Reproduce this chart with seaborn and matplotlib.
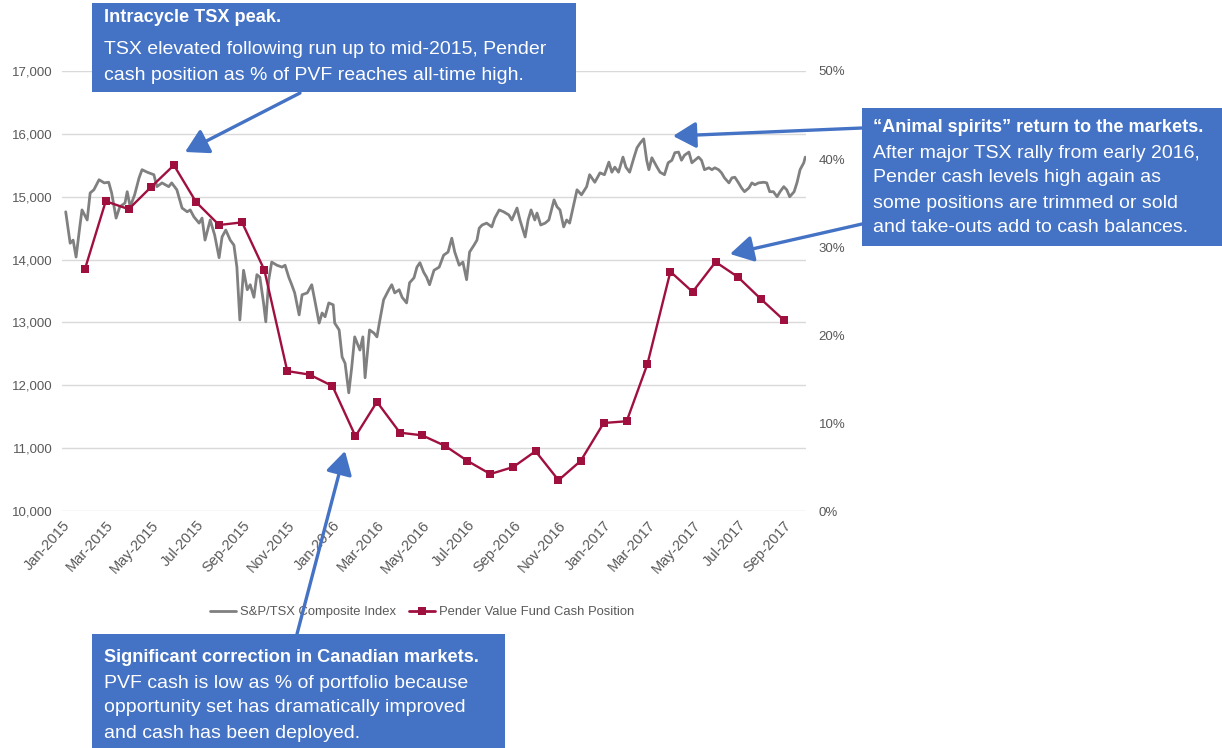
import matplotlib
matplotlib.use("Agg")
import matplotlib.pyplot as plt
import matplotlib.dates as mdates
from matplotlib.patches import Rectangle, FancyArrowPatch
from matplotlib.lines import Line2D
from matplotlib.ticker import FuncFormatter, FixedLocator
import seaborn as sns
import pandas as pd

# ---------------- data ----------------
tsx_dates = [
    "2015-01-06", "2015-01-12", "2015-01-16", "2015-01-20", "2015-01-25", "2015-01-28",
    "2015-02-04", "2015-02-08", "2015-02-13", "2015-02-20", "2015-02-27", "2015-03-05",
    "2015-03-09", "2015-03-15", "2015-03-20", "2015-03-27", "2015-03-30", "2015-04-03",
    "2015-04-09", "2015-04-15", "2015-04-19", "2015-04-26", "2015-05-05", "2015-05-09",
    "2015-05-16", "2015-05-25", "2015-05-29", "2015-06-05", "2015-06-12", "2015-06-19",
    "2015-06-23", "2015-06-28", "2015-07-05", "2015-07-09", "2015-07-13", "2015-07-20",
    "2015-07-26", "2015-08-01", "2015-08-05", "2015-08-10", "2015-08-16", "2015-08-21",
    "2015-08-25", "2015-08-29", "2015-09-03", "2015-09-08", "2015-09-12", "2015-09-17",
    "2015-09-21", "2015-09-25", "2015-09-30", "2015-10-03", "2015-10-07", "2015-10-11",
    "2015-10-18", "2015-10-25", "2015-10-29", "2015-11-03", "2015-11-07", "2015-11-11",
    "2015-11-17", "2015-11-21", "2015-11-28", "2015-12-04", "2015-12-08", "2015-12-14",
    "2015-12-18", "2015-12-22", "2015-12-27", "2016-01-02", "2016-01-04", "2016-01-10",
    "2016-01-14", "2016-01-18", "2016-01-23", "2016-01-27", "2016-01-31", "2016-02-07",
    "2016-02-11", "2016-02-14", "2016-02-20", "2016-02-26", "2016-03-01", "2016-03-05",
    "2016-03-10", "2016-03-17", "2016-03-21", "2016-03-25", "2016-03-31", "2016-04-04",
    "2016-04-10", "2016-04-14", "2016-04-20", "2016-04-24", "2016-04-28", "2016-05-03",
    "2016-05-07", "2016-05-11", "2016-05-17", "2016-05-24", "2016-05-30", "2016-06-05",
    "2016-06-10", "2016-06-14", "2016-06-20", "2016-06-25", "2016-06-30", "2016-07-04",
    "2016-07-10", "2016-07-14", "2016-07-17", "2016-07-21", "2016-07-27", "2016-08-03",
    "2016-08-07", "2016-08-13", "2016-08-19", "2016-08-26", "2016-08-30", "2016-09-06",
    "2016-09-10", "2016-09-17", "2016-09-21", "2016-09-25", "2016-09-30", "2016-10-03",
    "2016-10-08", "2016-10-14", "2016-10-19", "2016-10-26", "2016-10-30", "2016-11-03",
    "2016-11-08", "2016-11-12", "2016-11-16", "2016-11-22", "2016-11-26", "2016-12-02",
    "2016-12-09", "2016-12-13", "2016-12-20", "2016-12-27", "2017-01-02", "2017-01-08",
    "2017-01-12", "2017-01-16", "2017-01-21", "2017-01-27", "2017-01-31", "2017-02-05",
    "2017-02-11", "2017-02-15", "2017-02-19", "2017-02-24", "2017-02-28", "2017-03-03",
    "2017-03-07", "2017-03-14", "2017-03-18", "2017-03-24", "2017-03-29", "2017-04-03",
    "2017-04-07", "2017-04-12", "2017-04-16", "2017-04-20", "2017-04-26", "2017-04-30",
    "2017-05-04", "2017-05-09", "2017-05-13", "2017-05-17", "2017-05-23", "2017-05-27",
    "2017-05-31", "2017-06-05", "2017-06-09", "2017-06-13", "2017-06-19", "2017-06-23",
    "2017-06-27", "2017-07-02", "2017-07-06", "2017-07-10", "2017-07-16", "2017-07-20",
    "2017-07-24", "2017-07-29", "2017-08-05", "2017-08-09", "2017-08-13", "2017-08-18",
    "2017-08-23", "2017-08-27", "2017-09-01", "2017-09-05", "2017-09-09", "2017-09-15",
    "2017-09-19", "2017-09-23", "2017-09-28", "2017-09-30",
]
tsx_values = [
    14760, 14260, 14310, 14040, 14520, 14790,
    14630, 15060, 15110, 15270, 15220, 15230,
    15060, 14660, 14840, 14900, 15080, 14840,
    15030, 15300, 15430, 15390, 15350, 15160,
    15220, 15160, 15220, 15110, 14820, 14760,
    14790, 14680, 14580, 14660, 14310, 14630,
    14390, 14030, 14360, 14470, 14310, 14230,
    13880, 13040, 13830, 13520, 13600, 13400,
    13760, 13720, 13310, 13010, 13680, 13960,
    13910, 13880, 13910, 13720, 13600, 13470,
    13120, 13440, 13470, 13600, 13360, 12990,
    13150, 13090, 13310, 13280, 12990, 12880,
    12450, 12350, 11880, 12290, 12770, 12560,
    12770, 12120, 12880, 12830, 12770, 13040,
    13360, 13520, 13600, 13470, 13520, 13400,
    13310, 13630, 13710, 13880, 13950, 13800,
    13720, 13600, 13830, 13880, 14070, 14120,
    14340, 14120, 13910, 13960, 13680, 14120,
    14230, 14310, 14500, 14550, 14580, 14520,
    14660, 14790, 14760, 14710, 14630, 14820,
    14630, 14360, 14630, 14790, 14630, 14740,
    14550, 14580, 14630, 14950, 14840, 14790,
    14520, 14630, 14580, 14900, 15110, 15030,
    15160, 15350, 15230, 15380, 15350, 15550,
    15390, 15470, 15390, 15630, 15470, 15390,
    15630, 15780, 15850, 15920, 15580, 15430,
    15620, 15470, 15390, 15350, 15540, 15580,
    15700, 15710, 15580, 15660, 15710, 15540,
    15580, 15630, 15580, 15430, 15460, 15430,
    15460, 15430, 15380, 15300, 15220, 15300,
    15310, 15220, 15140, 15080, 15140, 15220,
    15190, 15220, 15230, 15220, 15080, 15080,
    15000, 15080, 15160, 15110, 15000, 15080,
    15230, 15430, 15540, 15630,
]

cash_months = pd.date_range("2015-02-01", "2017-09-01", freq="MS")
cash_pct = [
    27.5, 35.2, 34.3, 36.8, 39.3, 35.1, 32.5, 32.8, 27.4, 15.9, 15.5,
    14.2, 8.5, 12.4, 8.9, 8.6, 7.4, 5.7, 4.2, 5.0, 6.8, 3.5, 5.7,
    10.0, 10.2, 16.7, 27.2, 24.9, 28.3, 26.6, 24.1, 21.7,
]

series_names = ["S&P/TSX Composite Index", "Pender Value Fund Cash Position"]
left_ticks = [10000, 11000, 12000, 13000, 14000, 15000, 16000, 17000]
right_ticks = [0, 10, 20, 30, 40, 50]

box1_lines = ["Intracycle TSX peak.",
              "TSX elevated following run up to mid-2015, Pender",
              "cash position as % of PVF reaches all-time high."]
box2_lines = ["\u201cAnimal spirits\u201d return to the markets.",
              "After major TSX rally from early 2016,",
              "Pender cash levels high again as",
              "some positions are trimmed or sold",
              "and take-outs add to cash balances."]
box3_lines = ["Significant correction in Canadian markets.",
              "PVF cash is low as % of portfolio because",
              "opportunity set has dramatically improved",
              "and cash has been deployed."]

# ---------------- style ----------------
GREY = "#808080"
RED = "#A0103F"
BLUE = "#4472C4"
TICKC = "#595959"
W, H = 1222, 748

sns.set_theme(style="white")
plt.rcParams["font.family"] = ["Liberation Sans", "DejaVu Sans"]

fig = plt.figure(figsize=(W / 100, H / 100), dpi=100)
ax = fig.add_axes([62 / W, 1 - 511 / H, (806 - 62) / W, (511 - 71) / H])
ax2 = ax.twinx()

tsx_df = pd.DataFrame({"date": pd.to_datetime(tsx_dates), "value": tsx_values})
cash_df = pd.DataFrame({"date": cash_months, "pct": cash_pct})

sns.lineplot(data=tsx_df, x="date", y="value", ax=ax, color=GREY, linewidth=2.0)
sns.lineplot(data=cash_df, x="date", y="pct", ax=ax2, color=RED, linewidth=1.7,
             marker="s", markersize=5.5, markeredgewidth=0, markerfacecolor=RED)

ax.set_xlim(pd.Timestamp("2015-01-01"), pd.Timestamp("2017-10-01"))
ax.set_ylim(10000, 17000)
ax2.set_ylim(0, 50)

ax.yaxis.set_major_locator(FixedLocator(left_ticks))
ax.yaxis.set_major_formatter(FuncFormatter(lambda v, p: f"{int(v):,}"))
ax2.yaxis.set_major_locator(FixedLocator(right_ticks))
ax2.yaxis.set_major_formatter(FuncFormatter(lambda v, p: f"{int(v)}%"))

ax.xaxis.set_major_locator(mdates.MonthLocator(bymonth=[1, 3, 5, 7, 9, 11]))
ax.xaxis.set_major_formatter(mdates.DateFormatter("%b-%Y"))

ax.grid(axis="y", color="#d9d9d9", linewidth=1.0)
ax.grid(axis="x", visible=False)
ax2.grid(False)
for a in (ax, ax2):
    for s in a.spines.values():
        s.set_visible(False)
    a.set_xlabel("")
    a.set_ylabel("")
ax.tick_params(axis="y", length=0, pad=7, labelsize=9.5, labelcolor=TICKC)
ax2.tick_params(axis="y", length=0, pad=9, labelsize=9.5, labelcolor=TICKC)
ax.tick_params(axis="x", length=0, pad=5, labelsize=10.5, labelcolor=TICKC)
for lbl in ax.get_xticklabels():
    lbl.set_rotation(48)
    lbl.set_ha("right")
    lbl.set_rotation_mode("anchor")

# legend
handles = [Line2D([], [], color=GREY, linewidth=2.0),
           Line2D([], [], color=RED, linewidth=2.0, marker="s", markersize=5.5,
                  markeredgewidth=0)]
fig.legend(handles, series_names, loc="center", ncol=2, frameon=False,
           bbox_to_anchor=(422 / W, 1 - 612 / H), fontsize=9.4,
           handlelength=2.0, handletextpad=0.3, columnspacing=1.0,
           labelcolor=TICKC)

# ---------------- annotations ----------------
def fp(x, y):
    return (x / W, 1 - y / H)

def box(x0, y0, x1, y1):
    fig.add_artist(Rectangle(fp(x0, y1), (x1 - x0) / W, (y1 - y0) / H,
                             transform=fig.transFigure, facecolor=BLUE,
                             edgecolor="none", zorder=5))

def lines_text(x, ys, lines, title_size=13.1, body_size=14.0):
    for i, (yy, t) in enumerate(zip(ys, lines)):
        fig.text(*fp(x, yy), t, color="white",
                 fontsize=(title_size if i == 0 else body_size), va="center",
                 ha="left", fontweight=("bold" if i == 0 else "normal"),
                 zorder=6)

def arrow(x0, y0, x1, y1):
    fig.add_artist(FancyArrowPatch(fp(x0, y0), fp(x1, y1), transform=fig.transFigure,
                                   arrowstyle="-|>,head_length=0.7,head_width=0.4",
                                   mutation_scale=20, color=BLUE, linewidth=2.4,
                                   shrinkA=0, shrinkB=0, zorder=7))

box(92, 3, 576, 92)
lines_text(104, [18, 49, 76], box1_lines)
arrow(300, 93, 185, 152)

box(862, 108, 1222, 246)
lines_text(873, [128, 153, 178, 203, 228], box2_lines)
arrow(862, 128, 673, 136)
arrow(862, 224, 730, 254)

box(92, 634, 505, 748)
lines_text(104, [658, 683, 708, 733], box3_lines)
arrow(297, 634, 345, 451)

fig.savefig("out.png", dpi=100, facecolor="white")
